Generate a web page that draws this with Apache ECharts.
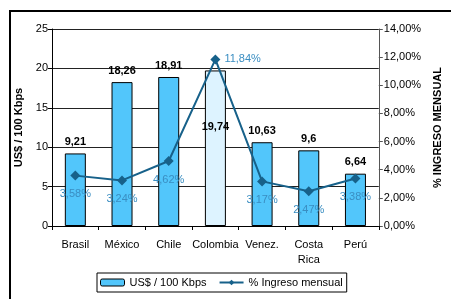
<!DOCTYPE html>
<html>
<head>
<meta charset="utf-8">
<script src="https://cdn.jsdelivr.net/npm/echarts@6/dist/echarts.min.js"></script>
<style>
  html, body { margin: 0; padding: 0; background: #fff; }
  #chart { width: 451px; height: 299px; }
</style>
</head>
<body>
<div id="chart"></div>
<script>
  const paises = ['Brasil', 'México', 'Chile', 'Colombia', 'Venez.', 'Costa\nRica', 'Perú']
  const precio = [9.21, 18.26, 18.91, 19.74, 10.63, 9.6, 6.64]
  const ingreso = [3.58, 3.24, 4.62, 11.84, 3.17, 2.47, 3.38]
  const nombreBarras = 'US$ / 100 Kbps'
  const nombreLinea = '% Ingreso mensual'

  const coma = v => String(v).replace('.', ',')
  const pct = v => v.toFixed(2).replace('.', ',') + '%'

  const fuente = 'Liberation Sans, Arial, sans-serif'

  const barras = precio.map((v, i) => {
    if (paises[i] === 'Colombia') {
      return {
        value: v,
        itemStyle: { color: '#DDF3FF' },
        label: { position: 'inside', offset: [0, -21] }
      }
    }
    return v
  })

  const linea = ingreso.map((v, i) => {
    if (paises[i] === 'Colombia') {
      return { value: v, label: { position: 'right', distance: 4 } }
    }
    return v
  })

  const dom = echarts.init(document.getElementById('chart'))
  const option = {
    animation: false,
    textStyle: { fontFamily: fuente },
    graphic: [
      {
        type: 'rect',
        shape: { x: 10, y: 11, width: 500, height: 400 },
        style: { fill: 'none', stroke: '#000', lineWidth: 2 },
        silent: true
      }
    ],
    grid: { left: 52, right: 61, top: 29, bottom: 73 },
    legend: {
      left: 97,
      top: 273,
      padding: [4, 4, 4, 3],
      borderColor: '#000',
      borderWidth: 1,
      itemWidth: 24,
      itemHeight: 7,
      itemGap: 12,
      textStyle: { fontSize: 11, color: '#000', fontFamily: fuente },
      data: [
        { name: nombreBarras, itemStyle: { borderWidth: 1, borderColor: '#000' } },
        { name: nombreLinea }
      ]
    },
    xAxis: {
      type: 'category',
      data: paises,
      axisLine: { lineStyle: { color: '#000', width: 1 } },
      axisTick: { show: true, alignWithLabel: false, length: 4, lineStyle: { color: '#000' } },
      axisLabel: { interval: 0, color: '#000', fontSize: 11, margin: 11, lineHeight: 15, fontFamily: fuente }
    },
    yAxis: [
      {
        type: 'value',
        min: 0,
        max: 25,
        interval: 5,
        name: nombreBarras,
        nameLocation: 'middle',
        nameGap: 23,
        nameTextStyle: { fontWeight: 'bold', fontSize: 11, color: '#000', fontFamily: fuente },
        axisLine: { show: true, lineStyle: { color: '#000' } },
        axisTick: { show: true, length: 4, lineStyle: { color: '#000' } },
        axisLabel: { color: '#000', fontSize: 11, margin: 4, fontFamily: fuente },
        splitLine: { show: true, lineStyle: { color: '#222', width: 1 } }
      },
      {
        type: 'value',
        min: 0,
        max: 14,
        interval: 2,
        name: '% INGRESO MENSUAL',
        nameLocation: 'middle',
        nameGap: 53,
        nameRotate: 90,
        nameTextStyle: { fontWeight: 'bold', fontSize: 11, color: '#000', fontFamily: fuente },
        axisLine: { show: true, lineStyle: { color: '#555' } },
        axisTick: { show: true, length: 4, lineStyle: { color: '#555' } },
        axisLabel: { color: '#000', fontSize: 11, margin: 5, formatter: v => pct(v), fontFamily: fuente },
        splitLine: { show: false }
      }
    ],
    series: [
      {
        name: nombreBarras,
        type: 'bar',
        yAxisIndex: 0,
        barWidth: 21,
        data: barras,
        itemStyle: { color: '#52C6FB', borderColor: '#000', borderWidth: 1 },
        label: {
          show: true,
          position: 'top',
          distance: 6,
          fontWeight: 'bold',
          fontSize: 11,
          color: '#000',
          fontFamily: fuente,
          formatter: p => coma(p.value)
        }
      },
      {
        name: nombreLinea,
        type: 'line',
        yAxisIndex: 1,
        data: linea,
        symbol: 'diamond',
        symbolSize: 10,
        lineStyle: { color: '#17618A', width: 2 },
        itemStyle: { color: '#17618A' },
        label: {
          show: true,
          position: 'bottom',
          distance: 8,
          fontSize: 11,
          color: '#3A8EC2',
          fontFamily: fuente,
          formatter: p => pct(p.value)
        },
        z: 5
      }
    ]
  }
  dom.setOption(option)
</script>
</body>
</html>
